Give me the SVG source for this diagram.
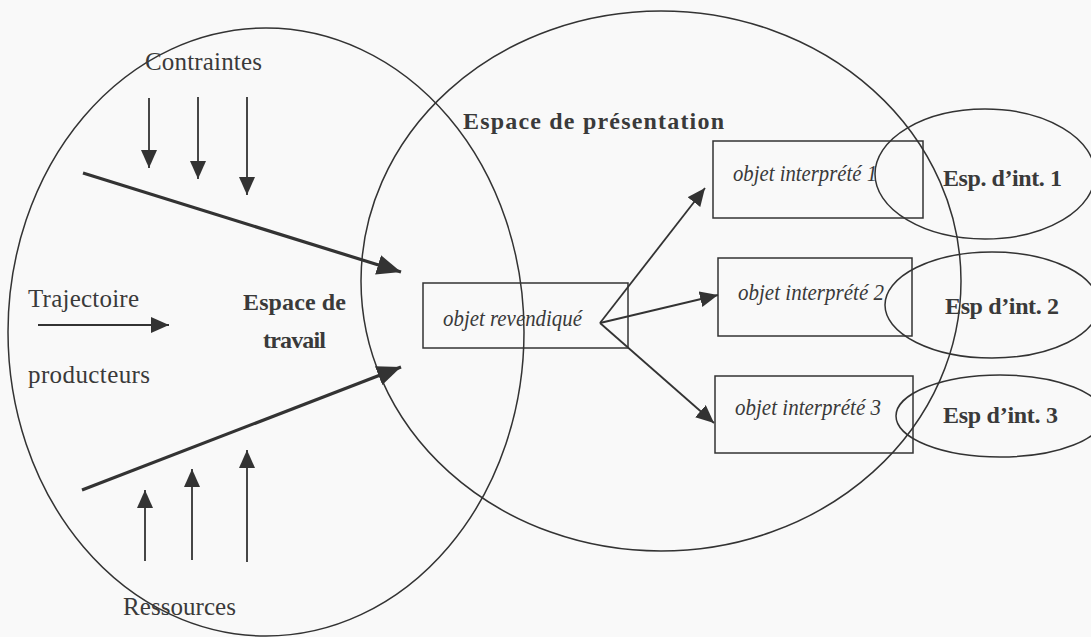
<svg xmlns="http://www.w3.org/2000/svg" width="1091" height="637" viewBox="0 0 1091 637">
<defs>
<style>
.bg{fill:#f9f9f9}
.shape{fill:none;stroke:#333;stroke-width:1.5}
.thin{fill:none;stroke:#333;stroke-width:1.8}
.thick{fill:none;stroke:#333;stroke-width:3.2}
.reg{font-family:"Liberation Serif",serif;font-size:25px;fill:#3a3a3a}
.bold{font-family:"Liberation Serif",serif;font-size:24px;font-weight:bold;fill:#3a3a3a}
.ital{font-family:"Liberation Serif",serif;font-size:23px;font-style:italic;fill:#3a3a3a}
</style>
<marker id="ah" markerUnits="userSpaceOnUse" markerWidth="20" markerHeight="18" refX="18" refY="8" orient="auto">
<path d="M0,0 L18,8 L0,16 Z" fill="#333"/>
</marker>
<marker id="ahb" markerUnits="userSpaceOnUse" markerWidth="26" markerHeight="22" refX="24" refY="10" orient="auto">
<path d="M0,0 L24,10 L0,20 Z" fill="#333"/>
</marker>
</defs>
<rect class="bg" x="0" y="0" width="1091" height="637"/>

<g id="espace-travail">
<ellipse class="shape" cx="266" cy="332" rx="258" ry="304"/>
<text class="bold" x="243" y="310" textLength="103">Espace de</text>
<text class="bold" x="263" y="348" textLength="63">travail</text>
</g>

<g id="espace-presentation">
<ellipse class="shape" cx="661" cy="281" rx="300" ry="270"/>
<text class="bold" x="463" y="129" textLength="261">Espace de présentation</text>
</g>

<g id="contraintes"><text class="reg" x="145" y="70" textLength="117">Contraintes</text></g>
<g id="trajectoire"><text class="reg" x="28" y="307" textLength="111">Trajectoire</text></g>
<g id="producteurs"><text class="reg" x="28" y="383" textLength="122">producteurs</text></g>
<g id="ressources"><text class="reg" x="123" y="615" textLength="113">Ressources</text></g>

<g id="objet-revendique">
<rect class="shape" x="423" y="283" width="205" height="65"/>
<text class="ital" x="443" y="326" textLength="139" lengthAdjust="spacingAndGlyphs">objet revendiqué</text>
</g>

<g id="objet-interprete-1">
<rect class="shape" x="713" y="141" width="210" height="77"/>
<text class="ital" x="733" y="181" textLength="144" lengthAdjust="spacingAndGlyphs">objet interprété 1</text>
</g>
<g id="objet-interprete-2">
<rect class="shape" x="718" y="258" width="194" height="78"/>
<text class="ital" x="738" y="300" textLength="146" lengthAdjust="spacingAndGlyphs">objet interprété 2</text>
</g>
<g id="objet-interprete-3">
<rect class="shape" x="715" y="376" width="198" height="77"/>
<text class="ital" x="735" y="415" textLength="146" lengthAdjust="spacingAndGlyphs">objet interprété 3</text>
</g>

<g id="esp-int-1">
<ellipse class="shape" cx="985" cy="174" rx="110" ry="65"/>
<text class="bold" x="943" y="186" textLength="119">Esp. d’int. 1</text>
</g>
<g id="esp-int-2">
<ellipse class="shape" cx="992" cy="305" rx="107" ry="53"/>
<text class="bold" x="945" y="314" textLength="114">Esp d’int. 2</text>
</g>
<g id="esp-int-3">
<ellipse class="shape" cx="1000" cy="416" rx="104" ry="41"/>
<text class="bold" x="943" y="423" textLength="115">Esp d’int. 3</text>
</g>

<g id="connectors">
<line class="thin" x1="149" y1="98" x2="149" y2="168" marker-end="url(#ah)"/>
<line class="thin" x1="198" y1="97" x2="198" y2="179" marker-end="url(#ah)"/>
<line class="thin" x1="247" y1="97" x2="247" y2="195" marker-end="url(#ah)"/>
<line class="thin" x1="145" y1="561" x2="145" y2="490" marker-end="url(#ah)"/>
<line class="thin" x1="192" y1="560" x2="192" y2="469" marker-end="url(#ah)"/>
<line class="thin" x1="247" y1="562" x2="247" y2="450" marker-end="url(#ah)"/>
<line class="thin" x1="38" y1="325" x2="169" y2="325" marker-end="url(#ah)"/>
<line class="thick" x1="83" y1="173" x2="401" y2="272" marker-end="url(#ahb)"/>
<line class="thick" x1="82" y1="490" x2="401" y2="367" marker-end="url(#ahb)"/>
<line class="thin" x1="600" y1="323" x2="705" y2="188" marker-end="url(#ah)"/>
<line class="thin" x1="600" y1="323" x2="718" y2="295" marker-end="url(#ah)"/>
<line class="thin" x1="600" y1="323" x2="714" y2="423" marker-end="url(#ah)"/>
</g>
</svg>
